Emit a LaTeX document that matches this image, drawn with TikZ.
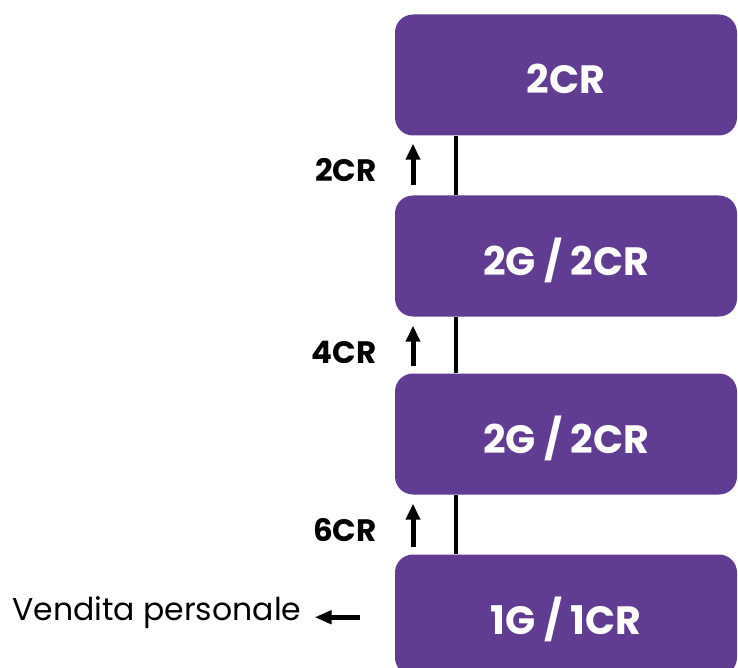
\documentclass[tikz,border=0pt]{standalone}
\usepackage{fontspec}
\setmainfont{Poppins}
\usetikzlibrary{arrows.meta}
\definecolor{tierpurple}{RGB}{96,61,146}
\tikzset{
  tier/.style={fill=tierpurple, rounded corners=18pt, minimum width=342pt,
    minimum height=121pt, inner sep=0pt, text=white,
    font=\bfseries\fontsize{39.5}{44}\selectfont, text height=38pt, text depth=0pt},
  gain/.style={font=\bfseries\fontsize{31}{34}\selectfont, anchor=east, inner sep=0pt},
  up/.style={line width=5pt, -{Triangle[width=14pt,length=16pt]}},
}

\begin{document}
\begin{tikzpicture}[x=1pt,y=-1pt]
  \useasboundingbox (0,0) rectangle (738,668);

  \node[tier] (t3) at (566,75) {2CR};
  \node[tier] (t2) at (566,256) {2G / 2CR};
  \node[tier] (t1) at (566,434) {2G / 2CR};
  \node[tier] (t0) at (566,615) {1G / 1CR};

  \node[gain] (g2) at (377,170) {2CR};
  \node[gain] (g1) at (377,352) {4CR};
  \node[gain] (g0) at (377,530) {6CR};

  \node[font=\fontsize{31.5}{36}\selectfont, anchor=base west, inner sep=0pt] (vp) at (12,620) {Vendita personale};

  % ladder
  \draw[line width=4pt] ([xshift=-110pt]t0.north) -- ([xshift=-110pt]t1.south);
  \draw[line width=4pt] ([xshift=-110pt]t1.north) -- ([xshift=-110pt]t2.south);
  \draw[line width=4pt] ([xshift=-110pt]t2.north) -- ([xshift=-110pt]t3.south);

  \draw[up] ([xshift=-153pt,yshift=7pt]t0.north) -- ([xshift=-153pt,yshift=-9pt]t1.south);
  \draw[up] ([xshift=-153pt,yshift=7pt]t1.north) -- ([xshift=-153pt,yshift=-9pt]t2.south);
  \draw[up] ([xshift=-153pt,yshift=10pt]t2.north) -- ([xshift=-153pt,yshift=-8pt]t3.south);

  % side exit
  \coordinate (vpfrom) at ([xshift=-35pt]t0.west |- vp.mid);
  \coordinate (vpto) at ([xshift=13pt]vp.mid east);
  \draw[line width=4.5pt, -{Triangle[width=13pt,length=17pt]}] (vpfrom) -- (vpto);
\end{tikzpicture}
\end{document}
